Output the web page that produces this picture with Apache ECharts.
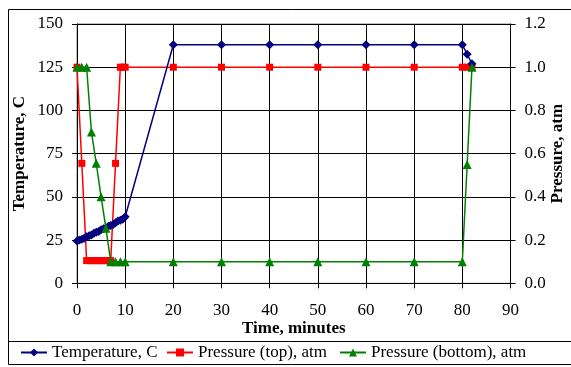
<!DOCTYPE html>
<html><head><meta charset="utf-8">
<script src="https://cdn.jsdelivr.net/npm/echarts@6/dist/echarts.min.js"></script>
<style>html,body{margin:0;padding:0;background:#fff}#c{width:571px;height:367px}</style>
</head><body><div id="c"></div>
<script>
const tempTime = [0,0.5,1,1.5,2,2.5,3,3.5,4,4.5,5,5.5,6,6.5,7,7.5,8,8.5,9,9.5,10,20,30,40,50,60,70,80,81,82];
const tempVals = [24.5,25,25.5,26,27,27.5,28,29,29.5,30,31,31.5,32,33,33.5,34,35,36,36.5,37,38.5,138,138,138,138,138,138,138,132.5,127];
const topTime = [0,1,2,2.5,3,3.5,4,4.5,5,5.5,6,6.5,7,8,9,9.5,10,20,30,40,50,60,70,80,81,82];
const topVals = [1.0,0.555,0.105,0.105,0.105,0.105,0.105,0.105,0.105,0.105,0.105,0.105,0.105,0.555,1.0,1.0,1.0,1.0,1.0,1.0,1.0,1.0,1.0,1.0,1.0,1.0];
const botTime = [0,1,2,3,4,5,6,7,8,9,10,20,30,40,50,60,70,80,81,82];
const botVals = [1.0,1.0,1.0,0.70,0.555,0.40,0.255,0.10,0.10,0.10,0.10,0.10,0.10,0.10,0.10,0.10,0.10,0.10,0.55,1.0];
const xTicks = {min:0,max:90,interval:10};
const leftTicks = {min:0,max:150,interval:25};
const rightTicks = {min:0,max:1.2,interval:0.2};
const names = ['Temperature, C','Pressure (top), atm','Pressure (bottom), atm'];

const FONT = '"Liberation Serif", "Times New Roman", serif';
const pair = (xs, ys) => xs.map((x,i)=>[x, ys[i]]);
const chart = echarts.init(document.getElementById('c'), null, {renderer:'canvas'});
const legendCommon = {top:344, padding:0, itemWidth:26, itemHeight:10, itemGap:0, textStyle:{fontFamily:FONT,fontSize:17,color:'#000'}, selectedMode:false};
chart.setOption({
  animation:false,
  backgroundColor:'#fff',
  graphic:[
    {type:'rect', shape:{x:8.5,y:9.5,width:600,height:355}, style:{fill:'none',stroke:'#000',lineWidth:1}, z:0},
    {type:'line', shape:{x1:8,y1:341.5,x2:571,y2:341.5}, style:{stroke:'#000',lineWidth:1}}
  ],
  grid:{left:77,right:60.5,top:24,bottom:83.7,show:true,borderColor:'#808080',borderWidth:1,outerBoundsMode:'none',containLabel:false},
  legend:[
    Object.assign({left:20,data:[names[0]]},legendCommon),
    Object.assign({left:166,data:[names[1]]},legendCommon),
    Object.assign({left:339,data:[names[2]]},legendCommon)
  ],
  xAxis:{type:'value',min:xTicks.min,max:xTicks.max,interval:xTicks.interval,
    name:'Time, minutes',nameLocation:'middle',nameGap:37,nameMoveOverlap:false,
    nameTextStyle:{fontFamily:FONT,fontSize:17,fontWeight:'bold',color:'#000'},
    axisLine:{show:true,onZero:false,lineStyle:{color:'#000',width:1}},
    axisTick:{show:true,length:5,lineStyle:{color:'#000'}},
    axisLabel:{margin:19,fontFamily:FONT,fontSize:17,color:'#000'},
    splitLine:{show:true,lineStyle:{color:'#000',width:1}}},
  yAxis:[
    {type:'value',position:'left',min:leftTicks.min,max:leftTicks.max,interval:leftTicks.interval,
     name:'Temperature, C',nameLocation:'middle',nameRotate:90,nameGap:49,nameMoveOverlap:false,
     nameTextStyle:{fontFamily:FONT,fontSize:17,fontWeight:'bold',color:'#000'},
     axisLine:{show:true,onZero:false,lineStyle:{color:'#000',width:1}},
     axisTick:{show:true,length:5,lineStyle:{color:'#000'}},
     axisLabel:{margin:14,fontFamily:FONT,fontSize:17,color:'#000'},
     splitLine:{show:true,lineStyle:{color:'#000',width:1}}},
    {type:'value',position:'right',min:rightTicks.min,max:rightTicks.max,interval:rightTicks.interval,
     name:'Pressure, atm',nameLocation:'middle',nameRotate:90,nameGap:39,nameMoveOverlap:false,
     nameTextStyle:{fontFamily:FONT,fontSize:17,fontWeight:'bold',color:'#000'},
     axisLine:{show:true,onZero:false,lineStyle:{color:'#000',width:1}},
     axisTick:{show:true,length:5,lineStyle:{color:'#000'}},
     axisLabel:{margin:14,fontFamily:FONT,fontSize:17,color:'#000',formatter:v=>v.toFixed(1)},
     splitLine:{show:false}}
  ],
  series:[
    {name:names[0],type:'line',yAxisIndex:0,data:pair(tempTime,tempVals),symbol:'diamond',symbolSize:9,
     itemStyle:{color:'#000080'},lineStyle:{color:'#000080',width:1.5},z:3},
    {name:names[1],type:'line',yAxisIndex:1,data:pair(topTime,topVals),symbol:'rect',symbolSize:7,
     itemStyle:{color:'#FF0000'},lineStyle:{color:'#FF0000',width:1.5},z:2},
    {name:names[2],type:'line',yAxisIndex:1,data:pair(botTime,botVals),symbol:'triangle',symbolSize:9,
     itemStyle:{color:'#008000'},lineStyle:{color:'#008000',width:1.5},z:4}
  ]
});
</script></body></html>
